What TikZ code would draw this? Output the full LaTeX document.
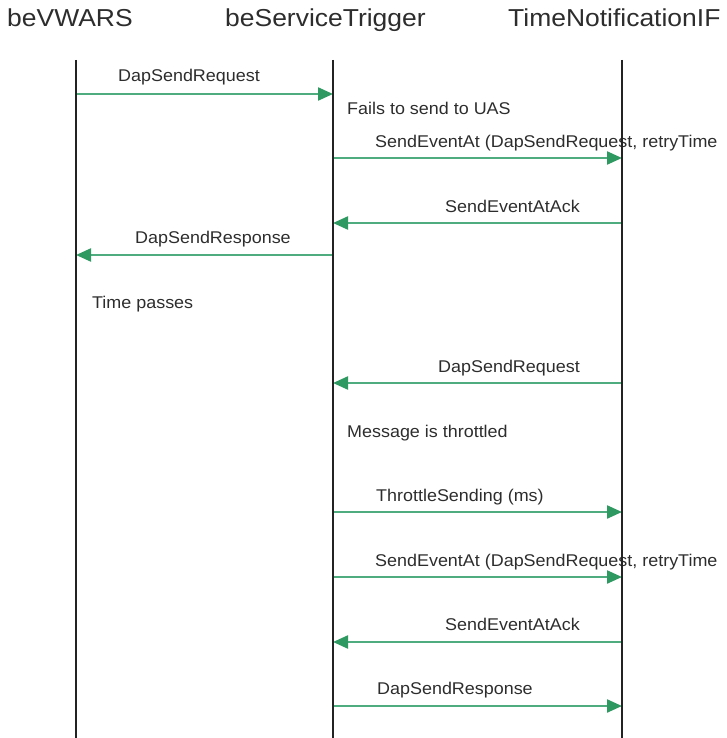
\documentclass[tikz,border=0pt]{standalone}
\usepackage{fontspec}
\setmainfont{Liberation Sans}
\usepackage{graphicx}
\usetikzlibrary{arrows.meta}
\definecolor{msghead}{RGB}{46,154,98}
\definecolor{msgline}{RGB}{78,172,126}
\definecolor{txtgray}{RGB}{45,45,45}
\definecolor{lifegray}{RGB}{35,35,35}
\newcommand{\hdrtxt}[1]{\scalebox{1.08}[1]{#1}}
\newcommand{\msgtxt}[1]{\scalebox{1.055}[1]{#1}}
\begin{document}
\begin{tikzpicture}[x=1pt,y=-1pt,
  hdr/.style={inner sep=0pt, anchor=base west, text=txtgray, font=\fontsize{24.5}{29}\selectfont},
  lbl/.style={inner sep=0pt, anchor=base west, text=txtgray, font=\fontsize{17}{20}\selectfont},
  lifeline/.style={draw=lifegray, line width=2pt},
  msg/.style={draw=msgline, line width=2.2pt, -{Triangle[length=15pt,width=13pt,color=msghead]}}]
\useasboundingbox (0,0) rectangle (727,738);
% headers
\node[hdr] (hA) at (7,27) {\hdrtxt{beVWARS}};
\node[hdr] (hB) at (225,27) {\hdrtxt{beServiceTrigger}};
\node[hdr] (hC) at (508,27) {\hdrtxt{TimeNotificationIF}};
% lifeline ends
\coordinate (aTop) at (76,60);   \coordinate (aBot) at (76,738);
\coordinate (bTop) at (333,60);  \coordinate (bBot) at (333,738);
\coordinate (cTop) at (622,60);  \coordinate (cBot) at (622,738);
% message end points
\coordinate (m1a) at (76,94);   \coordinate (m1b) at (333,94);
\coordinate (m2b) at (333,158); \coordinate (m2c) at (622,158);
\coordinate (m3c) at (622,223); \coordinate (m3b) at (333,223);
\coordinate (m4b) at (333,255); \coordinate (m4a) at (76,255);
\coordinate (m5c) at (622,383); \coordinate (m5b) at (333,383);
\coordinate (m6b) at (333,512); \coordinate (m6c) at (622,512);
\coordinate (m7b) at (333,577); \coordinate (m7c) at (622,577);
\coordinate (m8c) at (622,642); \coordinate (m8b) at (333,642);
\coordinate (m9b) at (333,706); \coordinate (m9c) at (622,706);
% messages
\draw[msg] (m1a) -- (m1b);
\draw[msg] (m2b) -- (m2c);
\draw[msg] (m3c) -- (m3b);
\draw[msg] (m4b) -- (m4a);
\draw[msg] (m5c) -- (m5b);
\draw[msg] (m6b) -- (m6c);
\draw[msg] (m7b) -- (m7c);
\draw[msg] (m8c) -- (m8b);
\draw[msg] (m9b) -- (m9c);
% labels
\node[lbl] (l1) at (118,82) {\msgtxt{DapSendRequest}};
\node[lbl] (n1) at (347,115) {\msgtxt{Fails to send to UAS}};
\node[lbl] (l2) at (375,147.5) {\msgtxt{SendEventAt (DapSendRequest, retryTime}};
\node[lbl] (l3) at (445,212) {\msgtxt{SendEventAtAck}};
\node[lbl] (l4) at (135,243.5) {\msgtxt{DapSendResponse}};
\node[lbl] (n2) at (92,308) {\msgtxt{Time passes}};
\node[lbl] (l5) at (438,372) {\msgtxt{DapSendRequest}};
\node[lbl] (n3) at (347,437) {\msgtxt{Message is throttled}};
\node[lbl] (l6) at (376,501.5) {\msgtxt{ThrottleSending (ms)}};
\node[lbl] (l7) at (375,566) {\msgtxt{SendEventAt (DapSendRequest, retryTime}};
\node[lbl] (l8) at (445,630.5) {\msgtxt{SendEventAtAck}};
\node[lbl] (l9) at (377,694.5) {\msgtxt{DapSendResponse}};
% lifelines
\draw[lifeline] (aTop) -- (aBot);
\draw[lifeline] (bTop) -- (bBot);
\draw[lifeline] (cTop) -- (cBot);
\end{tikzpicture}
\end{document}
